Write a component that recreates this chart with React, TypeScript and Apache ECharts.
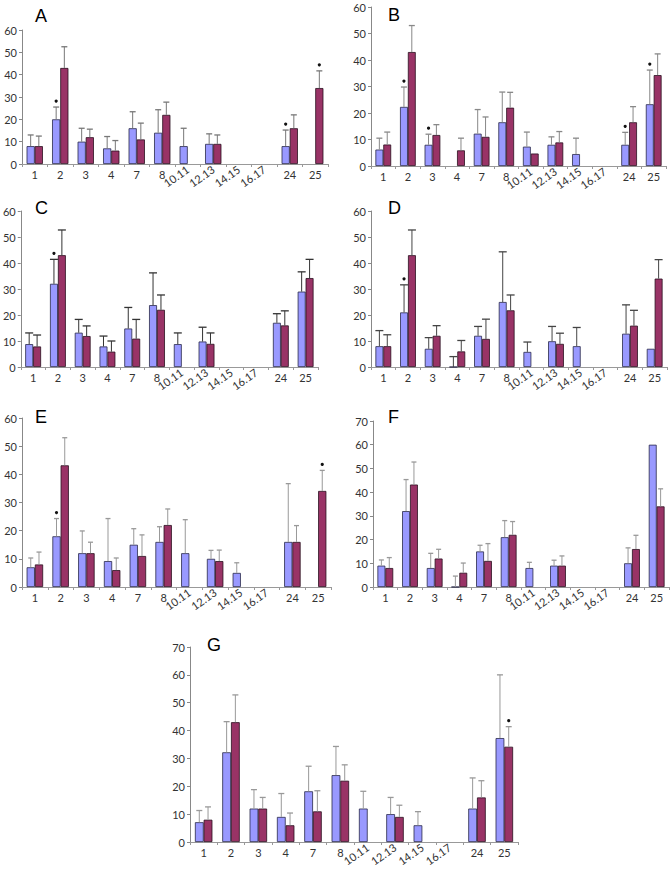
import React, { useEffect, useRef } from 'react';
import * as echarts from 'echarts';

const categories = ['1', '2', '3', '4', '7', '8', '10.11', '12.13', '14.15', '16.17', '24', '25'];
const rotatedCats = ['10.11', '12.13', '14.15', '16.17'];
const panelTitles = ['A', 'B', 'C', 'D', 'E', 'F', 'G'];
const axisMax = [60, 60, 60, 60, 60, 70, 70];

// Panel A
const aBlue = [8, 20, 10, 7, 16, 14, 8, 9, null, null, 8, null];
const aBlueHi = [13, 25.5, 16, 12.3, 23.4, 24.3, 16, 13.5, null, null, 15.2, null];
const aRed = [8, 43, 12, 6, 11, 22, null, 9, null, null, 16, 34];
const aRedHi = [12.5, 52.5, 15.6, 10.5, 18.3, 27.7, null, 13, null, null, 22, 41.7];
const aBlueStars = ['2', '24'];
const aRedStars = ['25'];

// Panel B
const bBlue = [6.2, 22.3, 8, null, 12.2, 16.5, 7.3, 8, 4.5, null, 8, 23.3];
const bBlueHi = [10.5, 29.8, 12, null, 21.3, 27.9, 12.8, 11, 10.5, null, 12.7, 36.2];
const bRed = [8.1, 43, 11.7, 5.9, 11, 22, 4.7, 8.9, null, null, 16.5, 34.3];
const bRedHi = [12.8, 53, 15.6, 10.5, 18.5, 27.8, null, 13, null, null, 22.4, 42.3];
const bBlueStars = ['2', '3', '24', '25'];
const bRedStars: string[] = [];

// Panel C
const cBlue = [8.8, 32, 13.2, 7.9, 14.8, 23.8, 8.8, 9.8, null, null, 17, 29];
const cBlueHi = [13.1, 41.4, 18.3, 11.9, 22.9, 36.2, 13.1, 15.3, null, null, 20.5, 36.6];
const cRed = [7.9, 43, 11.9, 5.9, 10.9, 22, null, 8.9, null, null, 16, 34.2];
const cRedHi = [12.3, 52.7, 15.8, 10, 18.3, 27.7, null, 13.1, null, null, 21.6, 41.4];
const cBlueStars = ['2'];
const cRedStars: string[] = [];

// Panel D
const dBlue = [8, 21, 7, 0, 12, 25, 5.8, 9.9, 8, null, 12.8, 7];
const dBlueHi = [14, 31.6, 11.3, 4, 15.6, 44.3, 9.6, 15.6, 15.2, null, 23.9, null];
const dRed = [8, 43, 12, 6, 10.8, 21.8, null, 8.9, null, null, 15.9, 34];
const dRedHi = [12.4, 52.7, 15.9, 10.2, 18.4, 27.7, null, 13, null, null, 21.8, 41.3];
const dBlueStars = ['2'];
const dRedStars: string[] = [];

// Panel E
const eBlue = [7, 18, 12, 9.2, 15, 16, 12, 10, 5, null, 16, null];
const eBlueHi = [10.3, 24.3, 19.9, 24.3, 20.7, 21.4, 23.9, 13, 8.6, null, 36.7, null];
const eRed = [8, 43.2, 12, 6, 11, 22, null, 9.2, null, null, 16, 34.1];
const eRedHi = [12.4, 53, 15.9, 10.3, 18.5, 27.7, null, 13.1, null, null, 21.8, 41.4];
const eBlueStars = ['2'];
const eRedStars = ['25'];

// Panel F
const fBlue = [9, 32, 8, 0, 15, 21, 8, 9, null, null, 10, 60];
const fBlueHi = [11.4, 45.3, 14.2, 4.6, 17.6, 28, 10.4, 11.3, null, null, 16.5, null];
const fRed = [8, 43.2, 12, 6, 11, 22, null, 9, null, null, 16, 34];
const fRedHi = [12.4, 52.7, 15.9, 10.1, 18.3, 27.6, null, 13.1, null, null, 21.8, 41.4];
const fBlueStars: string[] = [];
const fRedStars: string[] = [];

// Panel G
const gBlue = [7.1, 32.2, 12, 9, 18.2, 24, 12, 10, 6, null, 12, 37.3];
const gBlueHi = [11.3, 43.2, 18.8, 17.4, 27.2, 34.3, 18.2, 16, 10.9, null, 23, 60];
const gRed = [8, 43, 12, 6, 11, 22, null, 9, null, null, 16, 34.2];
const gRedHi = [12.6, 52.8, 16, 10.4, 18.4, 27.7, null, 13.2, null, null, 22, 41.4];
const gBlueStars: string[] = [];
const gRedStars = ['25'];

const panels = [
  [aBlue, aBlueHi, aRed, aRedHi, aBlueStars, aRedStars],
  [bBlue, bBlueHi, bRed, bRedHi, bBlueStars, bRedStars],
  [cBlue, cBlueHi, cRed, cRedHi, cBlueStars, cRedStars],
  [dBlue, dBlueHi, dRed, dRedHi, dBlueStars, dRedStars],
  [eBlue, eBlueHi, eRed, eRedHi, eBlueStars, eRedStars],
  [fBlue, fBlueHi, fRed, fRedHi, fBlueStars, fRedStars],
  [gBlue, gBlueHi, gRed, gRedHi, gBlueStars, gRedStars],
] as any[];

// Layout (pixels)
const grids = [
  { left: 22, top: 30, width: 306, height: 134 },
  { left: 371, top: 7, width: 295, height: 159 },
  { left: 20, top: 211, width: 298, height: 156 },
  { left: 371, top: 211, width: 296, height: 156 },
  { left: 22, top: 418, width: 309, height: 169 },
  { left: 373, top: 421, width: 296, height: 166 },
  { left: 190, top: 647, width: 328, height: 195 },
];
const titlePos = [
  [35, 7], [388, 6], [35, 199], [388, 199], [35, 408], [388, 408], [207, 636],
];
const errColor = ['#777', '#888', '#333', '#444', '#999', '#999', '#999'];
const capHalf = [3, 3, 4, 4, 2.5, 2.5, 3];

const GAP = 0.36;
const BLUE = '#9999ff';
const RED = '#993366';
const FONT = 'Lato';

function buildOption() {
  const grid: any[] = [];
  const xAxis: any[] = [];
  const yAxis: any[] = [];
  const series: any[] = [];
  const graphic: any[] = [];

  panels.forEach((p, g) => {
    const [blue, blueHi, red, redHi, blueStars, redStars] = p;
    grid.push({ ...grids[g], containLabel: false });
    xAxis.push({
      type: 'category',
      gridIndex: g,
      data: categories,
      position: 'bottom',
      axisLine: { show: true, lineStyle: { color: '#999', width: 1 } },
      axisTick: { show: true, length: 3, interval: 0, lineStyle: { color: '#999' } },
      axisLabel: {
        interval: 0,
        margin: 5,
        fontSize: 11,
        fontFamily: FONT,
        color: '#333',
        formatter: (v: string) => (rotatedCats.includes(v) ? '' : v),
      },
    });
    xAxis.push({
      type: 'category',
      gridIndex: g,
      data: categories,
      position: 'bottom',
      axisLine: { show: false },
      axisTick: { show: false },
      axisLabel: {
        interval: 0,
        rotate: 35,
        margin: 4,
        fontSize: 11,
        fontFamily: FONT,
        color: '#333',
        formatter: (v: string) => (rotatedCats.includes(v) ? v : ''),
      },
    });
    yAxis.push({
      type: 'value',
      gridIndex: g,
      min: 0,
      max: axisMax[g],
      interval: 10,
      splitLine: { show: false },
      axisLine: { show: true, lineStyle: { color: '#888', width: 1 } },
      axisTick: { show: true, length: 3, lineStyle: { color: '#888' } },
      axisLabel: { fontSize: 11, fontFamily: FONT, color: '#333', margin: 5 },
    });

    series.push({
      type: 'bar',
      xAxisIndex: g * 2,
      yAxisIndex: g,
      data: blue,
      barCategoryGap: GAP * 100 + '%',
      barGap: '0%',
      itemStyle: { color: BLUE, borderColor: '#2a2a4a', borderWidth: 0.8 },
      z: 2,
    });
    series.push({
      type: 'bar',
      xAxisIndex: g * 2,
      yAxisIndex: g,
      data: red,
      barCategoryGap: GAP * 100 + '%',
      barGap: '0%',
      itemStyle: { color: RED, borderColor: '#2a1020', borderWidth: 0.8 },
      z: 2,
    });

    const errData: number[][] = [];
    categories.forEach((c, i) => {
      if (blueHi[i] != null) {
        errData.push([i, blue[i] ?? 0, blueHi[i], 0, blueStars.includes(c) ? 1 : 0]);
      }
      if (redHi[i] != null) {
        errData.push([i, red[i] ?? 0, redHi[i], 1, redStars.includes(c) ? 1 : 0]);
      }
    });
    const col = errColor[g];
    const cap = capHalf[g];
    series.push({
      type: 'custom',
      xAxisIndex: g * 2,
      yAxisIndex: g,
      data: errData,
      encode: { x: 0, y: 2 },
      z: 5,
      renderItem: (params: any, api: any) => {
        const c = api.value(0);
        const base = api.value(1);
        const hi = api.value(2);
        const side = api.value(3);
        const star = api.value(4);
        const band = api.size([1, 0])[0];
        const bw = (band * (1 - GAP)) / 2;
        const cx = api.coord([c, 0])[0] + (side === 0 ? -bw / 2 : bw / 2);
        const yb = api.coord([c, base])[1];
        const yh = api.coord([c, hi])[1];
        const children: any[] = [
          { type: 'line', shape: { x1: cx, y1: yb, x2: cx, y2: yh }, style: { stroke: col, lineWidth: 1 } },
          { type: 'line', shape: { x1: cx - cap, y1: yh, x2: cx + cap, y2: yh }, style: { stroke: col, lineWidth: 1.3 } },
        ];
        if (star) {
          children.push({ type: 'circle', shape: { cx, cy: yh - 6, r: 1.6 }, style: { fill: '#111' } });
        }
        return { type: 'group', children };
      },
    });

    graphic.push({
      type: 'text',
      left: titlePos[g][0],
      top: titlePos[g][1],
      style: { text: panelTitles[g], fontSize: 18, fontFamily: 'Liberation Sans', fill: '#000' },
    });
  });

  return { animation: false, grid, xAxis, yAxis, series, graphic };
}

export default function App() {
  const ref = useRef<HTMLDivElement>(null);
  useEffect(() => {
    if (!ref.current) return;
    const chart = echarts.init(ref.current, undefined, { renderer: 'svg' });
    chart.setOption(buildOption() as any);
    return () => chart.dispose();
  }, []);
  return (
    <div
      ref={ref}
      style={{ position: 'absolute', left: 0, top: 0, width: 672, height: 872, background: '#fff' }}
    />
  );
}
